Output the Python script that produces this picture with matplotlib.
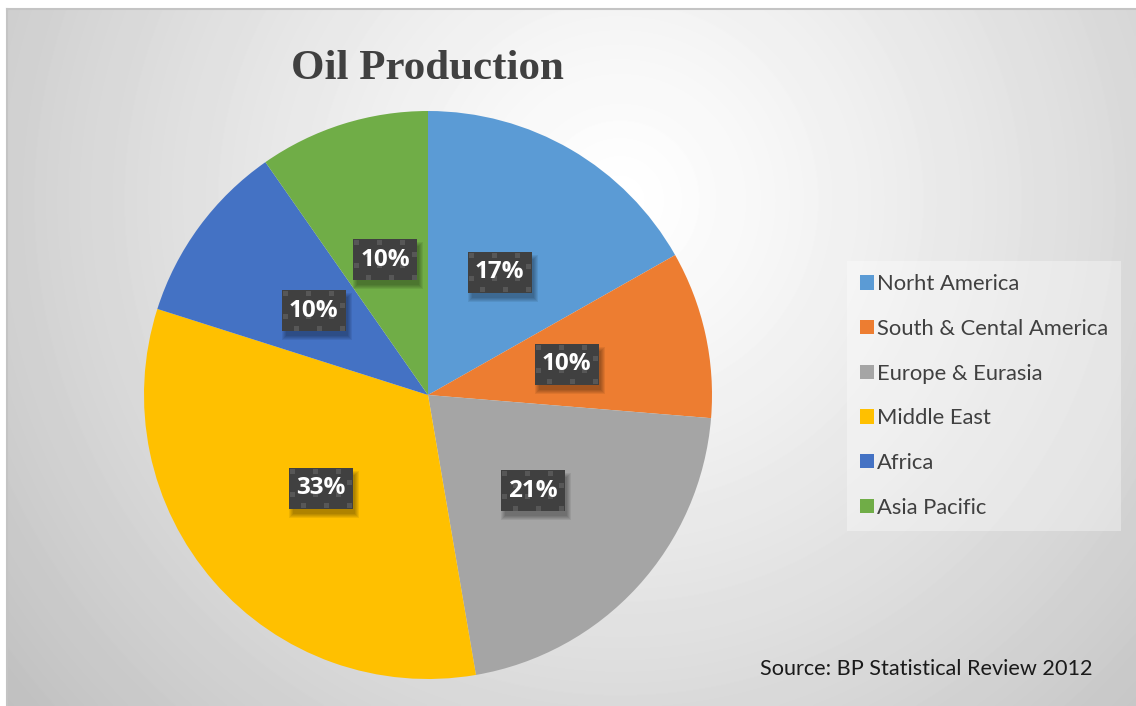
import numpy as np
import matplotlib.pyplot as plt
from matplotlib.lines import Line2D
from matplotlib.patches import Rectangle
from matplotlib.transforms import IdentityTransform

# Share of world oil production by region (%)
regions = ['Norht America', 'South & Cental America', 'Europe & Eurasia',
           'Middle East', 'Africa', 'Asia Pacific']
shares = [16.8, 9.5, 21.0, 32.6, 10.4, 9.7]
colors = ['#5B9BD5', '#ED7D31', '#A5A5A5', '#FFC000', '#4472C4', '#70AD47']
pct_labels = [f'{int(s + 0.5)}%' for s in shares]

W, H = 1136, 706
fig = plt.figure(figsize=(W / 100, H / 100), dpi=100)
fig.patch.set_facecolor('white')

# soft radial grey backdrop for the chart area
bg = fig.add_axes([7 / W, 0, 1 - 7 / W, 1 - 9 / H])
yy, xx = np.mgrid[0:H - 9, 0:W - 7]
d = np.hypot(xx + 7 - 620, yy + 9 - 200)
shade = 1 - 0.25 * (d / 800) ** 1.2
bg.imshow(shade, cmap='gray', vmin=0, vmax=1, aspect='auto', interpolation='bilinear')
bg.axis('off')
fig.add_artist(Line2D([7 / W, 7 / W], [0, 1 - 9 / H], color='#c4c4c4', lw=1.5))
fig.add_artist(Line2D([7 / W, 1], [1 - 9 / H, 1 - 9 / H], color='#c4c4c4', lw=1.5))

ax = fig.add_axes([144 / W, 27 / H, 568 / W, 568 / H])
wedges, _ = ax.pie(shares, colors=colors, startangle=90, counterclock=False, radius=1)
ax.set_xlim(-1, 1)
ax.set_ylim(-1, 1)

# percentage boxes halfway out along each wedge (box size in pixels)
bw, bh = 64, 41
theta0 = 90
for s, lab in zip(shares, pct_labels):
    mid = np.deg2rad(theta0 - s * 3.6 / 2)
    theta0 -= s * 3.6
    x, y = 0.5 * np.cos(mid), 0.5 * np.sin(mid)
    cx, cy = ax.transData.transform((x, y))
    left, bottom = cx - bw / 2, cy - bh / 2
    # blurred drop shadow
    for k in range(5):
        ax.add_patch(Rectangle((left + 4 - k, bottom - 5 - k), bw + 2 * k - 2, bh + 2 * k - 2,
                               transform=IdentityTransform(), facecolor='black',
                               edgecolor='none', alpha=0.07, zorder=3, clip_on=False))
    ax.add_patch(Rectangle((left, bottom), bw, bh, transform=IdentityTransform(),
                           facecolor='#404040', edgecolor='none', zorder=4, clip_on=False))
    # checker texture on the box
    for j in range(4):
        off = 11.5 if j % 2 else 0
        for i in range(3):
            px = left + 1 + off + 23 * i
            py = bottom + bh - 6 - 11.5 * j
            if px + 5 <= left + bw:
                ax.add_patch(Rectangle((px, py), 5, 5, transform=IdentityTransform(),
                                       facecolor='#575757', edgecolor='none', zorder=4.5,
                                       clip_on=False))
    ax.text(x, y, lab, ha='center', va='center', color='white', fontsize=17.5,
            fontweight='bold', family='Open Sans', zorder=5)

fig.text(427 / W, 1 - 69 / H, 'Oil Production', ha='center', va='center',
         family='Liberation Serif', fontweight='bold', fontsize=31, color='#404040')

leg = fig.legend(wedges, regions, loc='upper left', bbox_to_anchor=(847 / W, 1 - 261 / H),
                 borderaxespad=0, frameon=True, fancybox=False,
                 prop={'family': 'Lato', 'size': 15.8}, labelcolor='#404040',
                 handlelength=0.64, handleheight=0.64, handletextpad=0.12,
                 labelspacing=1.125, borderpad=0.6)
frame = leg.get_frame()
frame.set_facecolor('white')
frame.set_alpha(0.35)
frame.set_linewidth(0)

fig.text(760 / W, 1 - 669 / H, 'Source: BP Statistical Review 2012', ha='left', va='center',
         family='Lato', fontsize=15.6, color='#1a1a1a')

fig.savefig('out.png', dpi=100)
